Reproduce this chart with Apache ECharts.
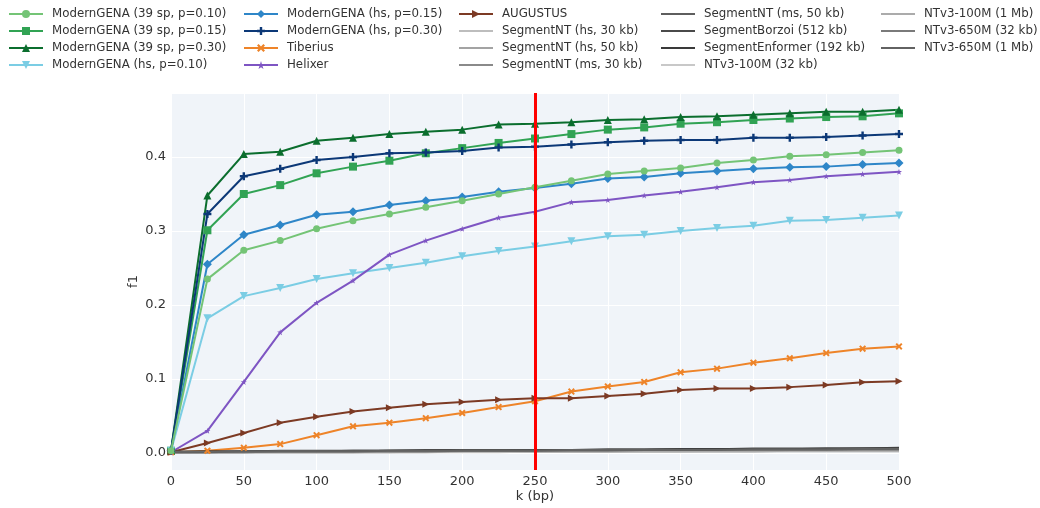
<!DOCTYPE html>
<html>
<head>
<meta charset="utf-8">
<script src="https://cdn.jsdelivr.net/npm/echarts@6/dist/echarts.min.js"></script>
<style>html,body{margin:0;padding:0;background:#fff}#c{width:1040px;height:508px}</style>
</head>
<body>
<div id="c"></div>
<script>
const kValues = [0,25,50,75,100,125,150,175,200,225,250,275,300,325,350,375,400,425,450,475,500];
const xTicks = [0,50,100,150,200,250,300,350,400,450,500];
const yTicks = [0.0,0.1,0.2,0.3,0.4];
const cutoffK = 250;

const mg39_010 = [0.003,0.235,0.274,0.287,0.303,0.314,0.323,0.332,0.341,0.350,0.359,0.368,0.377,0.381,0.385,0.392,0.396,0.401,0.403,0.406,0.409];
const mg39_015 = [0.003,0.301,0.350,0.362,0.378,0.387,0.395,0.405,0.412,0.419,0.425,0.431,0.437,0.440,0.445,0.447,0.450,0.452,0.454,0.455,0.459];
const mg39_030 = [0.003,0.348,0.404,0.407,0.422,0.426,0.431,0.434,0.437,0.444,0.445,0.447,0.450,0.451,0.454,0.455,0.457,0.459,0.461,0.461,0.464];
const mghs_010 = [0.003,0.182,0.212,0.223,0.235,0.243,0.250,0.257,0.266,0.273,0.279,0.286,0.293,0.295,0.300,0.304,0.307,0.314,0.315,0.318,0.321];
const mghs_015 = [0.003,0.255,0.295,0.308,0.322,0.326,0.335,0.341,0.346,0.353,0.358,0.364,0.371,0.373,0.378,0.381,0.384,0.386,0.387,0.390,0.392];
const mghs_030 = [0.003,0.323,0.374,0.384,0.396,0.400,0.405,0.406,0.408,0.413,0.414,0.417,0.420,0.422,0.423,0.423,0.426,0.426,0.427,0.429,0.431];
const tiberius = [0.001,0.003,0.007,0.012,0.024,0.036,0.041,0.047,0.054,0.062,0.070,0.083,0.090,0.096,0.109,0.114,0.122,0.128,0.135,0.141,0.144];
const helixer  = [0.001,0.030,0.096,0.163,0.203,0.233,0.268,0.287,0.303,0.318,0.326,0.339,0.342,0.348,0.353,0.359,0.366,0.369,0.374,0.377,0.380];
const augustus = [0.001,0.0135,0.027,0.041,0.049,0.056,0.061,0.066,0.069,0.072,0.074,0.074,0.077,0.080,0.085,0.087,0.087,0.089,0.092,0.0955,0.097];

const segnt_hs30 = [0.000,0.001,0.001,0.001,0.001,0.001,0.001,0.002,0.002,0.002,0.002,0.002,0.002,0.002,0.002,0.003,0.003,0.003,0.003,0.003,0.003];
const segnt_hs50 = [0.001,0.001,0.001,0.002,0.002,0.002,0.002,0.002,0.003,0.003,0.003,0.003,0.003,0.003,0.004,0.004,0.004,0.004,0.004,0.004,0.005];
const segnt_ms30 = [0.000,0.001,0.001,0.001,0.001,0.001,0.002,0.002,0.002,0.002,0.002,0.002,0.002,0.003,0.003,0.003,0.003,0.003,0.003,0.003,0.003];
const segnt_ms50 = [0.001,0.001,0.002,0.002,0.002,0.002,0.003,0.003,0.003,0.003,0.004,0.004,0.004,0.004,0.005,0.005,0.005,0.005,0.005,0.006,0.006];
const segborzoi  = [0.002,0.002,0.002,0.003,0.003,0.003,0.003,0.004,0.004,0.004,0.004,0.004,0.005,0.005,0.005,0.005,0.006,0.006,0.006,0.006,0.007];
const segenformer= [0.001,0.002,0.002,0.002,0.002,0.003,0.003,0.003,0.003,0.003,0.004,0.004,0.004,0.004,0.005,0.005,0.005,0.005,0.006,0.006,0.006];
const ntv3_100_32= [0.000,0.000,0.001,0.001,0.001,0.001,0.001,0.001,0.001,0.001,0.002,0.002,0.002,0.002,0.002,0.002,0.002,0.002,0.002,0.002,0.002];
const ntv3_100_1m= [0.000,0.001,0.001,0.001,0.001,0.001,0.001,0.001,0.002,0.002,0.002,0.002,0.002,0.002,0.002,0.002,0.002,0.003,0.003,0.003,0.003];
const ntv3_650_32= [0.001,0.001,0.001,0.002,0.002,0.002,0.002,0.002,0.003,0.003,0.003,0.003,0.003,0.004,0.004,0.004,0.004,0.004,0.004,0.005,0.005];
const ntv3_650_1m= [0.001,0.001,0.002,0.002,0.002,0.002,0.003,0.003,0.003,0.003,0.003,0.004,0.004,0.004,0.004,0.004,0.005,0.005,0.005,0.005,0.005];

const SYM_PLUS = 'path://M3.5,0 H6.5 V3.5 H10 V6.5 H6.5 V10 H3.5 V6.5 H0 V3.5 H3.5 Z';
const SYM_X = 'path://M2,0 L5,3 L8,0 L10,2 L7,5 L10,8 L8,10 L5,7 L2,10 L0,8 L3,5 L0,2 Z';
const SYM_STAR = 'path://M5,0 L6.1,3.5 L10,3.6 L6.9,5.9 L8.1,9.6 L5,7.4 L1.9,9.6 L3.1,5.9 L0,3.6 L3.9,3.5 Z';
const SYM_DOWN = 'path://M0,0 L10,0 L5,9 Z';
const SYM_RIGHT = 'path://M0,0 L9,5 L0,10 Z';

function pts(vals){ return kValues.map((k,i)=>[k, vals[i]]); }
function mk(name, vals, color, symbol, size, width){
  return {name, type:'line', data: pts(vals), symbol, symbolSize:size, showSymbol: symbol!=='none',
    lineStyle:{color, width: width||2}, itemStyle:{color}, emphasis:{disabled:true}, animation:false, z: 3};
}

const series = [
  mk('ModernGENA (39 sp, p=0.10)', mg39_010, '#74C476', 'circle', 7),
  mk('ModernGENA (39 sp, p=0.15)', mg39_015, '#31A354', 'rect', 8),
  mk('ModernGENA (39 sp, p=0.30)', mg39_030, '#0B6E2E', 'triangle', 8),
  mk('ModernGENA (hs, p=0.10)', mghs_010, '#7BCDE4', SYM_DOWN, 8),
  mk('ModernGENA (hs, p=0.15)', mghs_015, '#2E86C8', 'diamond', 9),
  mk('ModernGENA (hs, p=0.30)', mghs_030, '#0C3877', SYM_PLUS, 8),
  mk('Tiberius', tiberius, '#EE8429', SYM_X, 7),
  mk('Helixer', helixer, '#7E55C3', SYM_STAR, 6),
  mk('AUGUSTUS', augustus, '#7C3A24', SYM_RIGHT, 7),
  mk('SegmentNT (hs, 30 kb)', segnt_hs30, '#BDBDBD', 'none', 0),
  mk('SegmentNT (hs, 50 kb)', segnt_hs50, '#A3A3A3', 'none', 0),
  mk('SegmentNT (ms, 30 kb)', segnt_ms30, '#8A8A8A', 'none', 0),
  mk('SegmentNT (ms, 50 kb)', segnt_ms50, '#5E5E5E', 'none', 0),
  mk('SegmentBorzoi (512 kb)', segborzoi, '#4A4A4A', 'none', 0),
  mk('SegmentEnformer (192 kb)', segenformer, '#3A3A3A', 'none', 0),
  mk('NTv3-100M (32 kb)', ntv3_100_32, '#C8C8C8', 'none', 0),
  mk('NTv3-100M (1 Mb)', ntv3_100_1m, '#ABABAB', 'none', 0),
  mk('NTv3-650M (32 kb)', ntv3_650_32, '#7A7A7A', 'none', 0),
  mk('NTv3-650M (1 Mb)', ntv3_650_1m, '#626262', 'none', 0)
];
series[0].markLine = {silent:true, symbol:'none', animation:false, label:{show:false},
  lineStyle:{color:'#FF0000', width:3, type:'solid'}, data:[{xAxis: cutoffK}]};
series[0].z = 4;

const names = series.map(s=>s.name);
const colLefts = [8, 243, 458, 660, 880];
const legends = colLefts.map((left, ci)=>({
  orient:'vertical', left, top:7, itemWidth:34, itemHeight:10, itemGap:3,
  data: names.slice(ci*4, ci*4+4).map(n => {
    const s = series.find(x=>x.name===n);
    return s.symbol === 'none' ? {name:n, itemStyle:{opacity:0}, lineStyle:{width:2}} : {name:n};
  }),
  textStyle:{fontFamily:'DejaVu Sans', fontSize:11.8, color:'#333', lineHeight:14, padding:[0,0,0,4]},
  selectedMode:false, padding:0
}));

const chart = echarts.init(document.getElementById('c'), null, {renderer:'canvas'});
chart.setOption({
  animation:false,
  backgroundColor:'#ffffff',
  textStyle:{fontFamily:'DejaVu Sans'},
  legend: legends,
  grid:{left:171, right:141, top:93, bottom:38, show:true, backgroundColor:'#F0F4F9', borderWidth:0,
    containLabel:false, outerBoundsMode:'none'},
  xAxis:{type:'value', min:0, max:500, interval:50,
    name:'k (bp)', nameLocation:'middle', nameGap:20, nameMoveOverlap:false,
    nameTextStyle:{fontFamily:'DejaVu Sans', fontSize:13, color:'#333'},
    axisLine:{show:false}, axisTick:{show:false},
    axisLabel:{fontFamily:'DejaVu Sans', fontSize:13, color:'#333', margin:5,
      formatter: v => xTicks.includes(v) ? String(v) : ''},
    splitLine:{show:true, lineStyle:{color:'#ffffff', width:1}}},
  yAxis:{type:'value', min:-0.023, max:0.4865,
    name:'f1', nameLocation:'middle', nameGap:31, nameRotate:90, nameMoveOverlap:false,
    nameTextStyle:{fontFamily:'DejaVu Sans', fontSize:13, color:'#333'},
    axisLine:{show:false}, axisTick:{show:false},
    showMinLabel:false, showMaxLabel:false,
    axisLabel:{fontFamily:'DejaVu Sans', fontSize:13, color:'#333', margin:5,
      formatter: v => { const t = yTicks.find(y=>Math.abs(y-v)<1e-6); return t===undefined ? '' : t.toFixed(1); }},
    splitLine:{show:true, lineStyle:{color:'#ffffff', width:1}}},
  series
});
</script>
</body>
</html>
